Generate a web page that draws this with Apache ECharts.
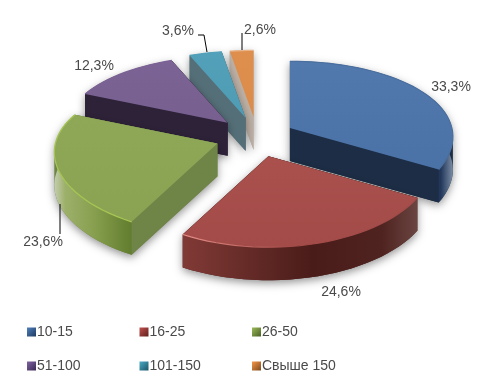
<!DOCTYPE html>
<html>
<head>
<meta charset="utf-8">
<style>
  html, body { margin: 0; padding: 0; background: #fff; }
  #chart { width: 492px; height: 389px; }
</style>
<script src="https://cdn.jsdelivr.net/npm/echarts@6/dist/echarts.min.js"></script>
</head>
<body>
<div id="chart"></div>
<script>
const categories = ['10-15', '16-25', '26-50', '51-100', '101-150', 'Свыше 150']
const shares = [33.3, 24.6, 23.6, 12.3, 3.6, 2.6]

// drawing order back to front, the 3d look depends on it
const paintOrder = [5, 4, 3, 0, 2, 1]

const center = [257, 137]
const radiusX = 162
const radiusY = 77
const perspective = 0.154
const depth = 33
const explode = [38, 42, 42, 42, 42, 42]

const looks = [
  { top: '#5179ad', topDark: '#4a72a6', rim: ['#4a6f9f', '#4a6f9f'], face: '#1c2d45',
    wall: [[0, '#1c2d45'], [0.6, '#22375a'], [1, '#7b8da5']], icon: ['#4f81bd', '#1f3a5f'] },
  { top: '#aa514e', topDark: '#a34b48', rim: ['#e8908a', '#a34b48'], face: '#4a1c1a',
    wall: [[0, '#813a36'], [0.55, '#4a1c19'], [0.85, '#4f2320'], [1, '#6a4541']], icon: ['#c0504d', '#5f1f1d'] },
  { top: '#8fa858', topDark: '#8aa353', rim: ['#a6c653', '#a6c653'], face: '#6f8447',
    wall: [[0, '#c4cdb0'], [0.14, '#9db06a'], [0.5, '#88a050'], [1, '#627d2e']], icon: ['#9bbb59', '#4a5f24'] },
  { top: '#7b6395', topDark: '#77608f', rim: ['#7b6395', '#7b6395'], face: '#2e2239',
    wall: [[0, '#2e2239'], [1, '#2e2239']], icon: ['#8064a2', '#3b2a55'] },
  { top: '#52a0b9', topDark: '#4f9cb4', rim: ['#52a0b9', '#52a0b9'], face: '#556f78',
    wall: [[0, '#556f78'], [1, '#556f78']], icon: ['#4bacc6', '#1c5566'] },
  { top: '#de8f4e', topDark: '#dc8c4a', rim: ['#e8b48a', '#e8b48a'], face: '#bdb0a5',
    wall: [[0, '#bdb0a5'], [1, '#bdb0a5']], icon: ['#f79646', '#7d4a1e'] }
]

const labelCenters = [[451, 87], [341, 292], [43, 242], [94, 66], [178, 31], [260, 30]]
const leaders = {
  2: [[60, 204], [60, 234]],
  4: [[198, 35], [204, 35], [207, 52]],
  5: [[242, 33], [242, 50]]
}

const total = shares.reduce((sum, v) => sum + v, 0)
const startAngles = shares.map((_, i) => shares.slice(0, i).reduce((sum, v) => sum + v, 0) / total * 360)
const endAngles = startAngles.map((a, i) => a + shares[i] / total * 360)

const rad = a => a * Math.PI / 180

// point on the pie rim, angle clockwise from 12 o'clock
function rimPoint(apex, angle) {
  const s = 1 / (1 + perspective * Math.cos(rad(angle)))
  return [
    apex[0] + radiusX * Math.sin(rad(angle)) * Math.pow(s, 0.72),
    apex[1] - radiusY * Math.cos(rad(angle)) * s
  ]
}

function arcPoints(apex, from, to) {
  const pts = []
  const steps = Math.max(2, Math.ceil((to - from) / 3))
  for (let k = 0; k <= steps; k++) pts.push(rimPoint(apex, from + (to - from) * k / steps))
  return pts
}

const down = p => [p[0], p[1] + depth]

function hull(points) {
  const pts = [...points].sort((a, b) => a[0] - b[0] || a[1] - b[1])
  const cross = (o, a, b) => (a[0] - o[0]) * (b[1] - o[1]) - (a[1] - o[1]) * (b[0] - o[0])
  const lower = []
  const upper = []
  pts.forEach(p => {
    while (lower.length > 1 && cross(lower[lower.length - 2], lower[lower.length - 1], p) <= 0) lower.pop()
    lower.push(p)
  })
  pts.slice().reverse().forEach(p => {
    while (upper.length > 1 && cross(upper[upper.length - 2], upper[upper.length - 1], p) <= 0) upper.pop()
    upper.push(p)
  })
  return lower.slice(0, -1).concat(upper.slice(0, -1))
}

const grad = (stops, x2, y2) => new echarts.graphic.LinearGradient(0, 0, x2, y2,
  stops.map(([offset, color]) => ({ offset, color })))

function renderSlice(i) {
  const from = startAngles[i]
  const to = endAngles[i]
  const mid = (from + to) / 2
  const look = looks[i]
  const apex = [
    center[0] + explode[i] * Math.sin(rad(mid)),
    center[1] - explode[i] * radiusY / radiusX * Math.cos(rad(mid))
  ]
  const arc = arcPoints(apex, from, to)
  const topFace = [apex, ...arc]
  const children = []

  // soft shadow under the whole block
  children.push({
    type: 'polygon',
    shape: { points: hull(topFace.concat(topFace.map(down))) },
    style: { fill: look.face, shadowBlur: 8, shadowColor: 'rgba(0,0,0,0.42)', shadowOffsetX: 0, shadowOffsetY: 3 }
  })

  // the two cut faces
  ;[from, to].forEach(angle => {
    const p = rimPoint(apex, angle)
    children.push({
      type: 'polygon',
      shape: { points: [apex, p, down(p), down(apex)] },
      style: { fill: look.face }
    })
  })

  // outer wall, a bit wider than what is turned to the viewer so the top hides the ends
  const wallFrom = Math.max(from, 60)
  const wallTo = Math.min(to, 300)
  if (wallTo > wallFrom) {
    const wallArc = arcPoints(apex, wallFrom, wallTo)
    children.push({
      type: 'polygon',
      shape: { points: wallArc.concat(wallArc.map(down).reverse()) },
      style: { fill: grad(look.wall, 1, 0) }
    })
  }

  children.push({
    type: 'polygon',
    shape: { points: topFace },
    style: { fill: grad([[0, look.top], [1, look.topDark]], 0, 1) }
  })
  children.push({
    type: 'polyline',
    shape: { points: arc },
    style: {
      fill: null,
      stroke: grad([[0, look.rim[0]], [0.45, look.rim[1]], [1, look.rim[1]]], 1, 0),
      lineWidth: 1.2
    }
  })

  return { type: 'group', children }
}

function renderLabel(i) {
  const children = [{
    type: 'text',
    style: {
      text: String(shares[i]).replace('.', ',') + '%',
      x: labelCenters[i][0],
      y: labelCenters[i][1],
      align: 'center',
      verticalAlign: 'middle',
      fill: '#4a4a4a',
      font: '14px "Liberation Sans", Arial, sans-serif'
    }
  }]
  if (leaders[i]) {
    children.push({
      type: 'polyline',
      shape: { points: leaders[i] },
      style: { fill: null, stroke: '#000', lineWidth: 1 }
    })
  }
  return { type: 'group', children }
}

const sliceSeries = paintOrder.map((i, order) => ({
  type: 'custom',
  name: categories[i],
  coordinateSystem: 'none',
  silent: true,
  z: 2 + order,
  data: [shares[i]],
  color: looks[i].icon[0],
  renderItem: () => renderSlice(i)
}))

const labelSeries = {
  type: 'custom',
  coordinateSystem: 'none',
  silent: true,
  z: 20,
  data: shares,
  renderItem: params => renderLabel(params.dataIndex)
}

const chart = echarts.init(document.getElementById('chart'), null, { renderer: 'canvas' })
chart.setOption({
  animation: false,
  backgroundColor: '#fff',
  legend: categories.map((name, i) => ({
    data: [{
      name,
      icon: 'rect',
      itemStyle: { color: grad([[0, looks[i].icon[0]], [1, looks[i].icon[1]]], 1, 1) }
    }],
    left: 27 + 112.5 * (i % 3),
    top: 325 + 34 * Math.floor(i / 3),
    padding: 0,
    itemWidth: 9,
    itemHeight: 9,
    selectedMode: false,
    textStyle: { color: '#4a4a4a', fontSize: 14, fontFamily: '"Liberation Sans", Arial, sans-serif', padding: [0, 0, 0, -4] }
  })),
  series: [...sliceSeries, labelSeries]
})
</script>
</body>
</html>
